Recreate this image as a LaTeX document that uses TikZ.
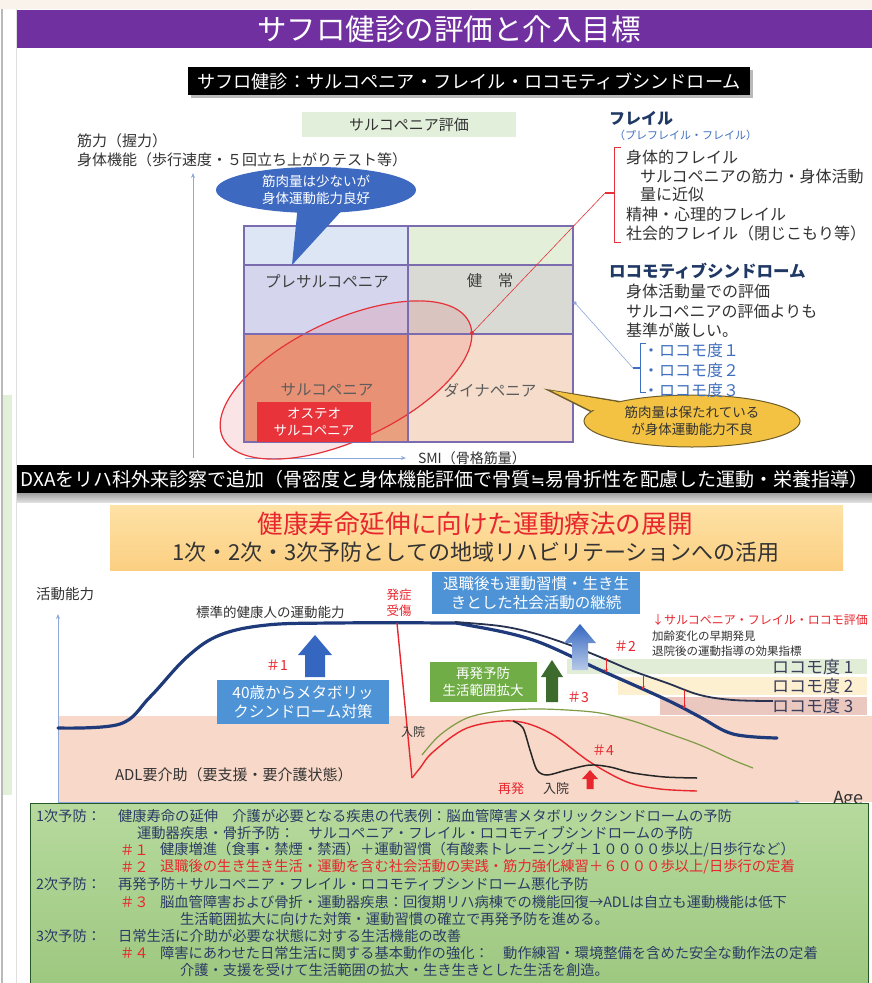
\documentclass[tikz,border=0pt]{standalone}
\usepackage{fontspec}
\setmainfont{Noto Sans CJK JP}
\newfontfamily\dejavu{DejaVu Sans}
\usetikzlibrary{arrows.meta,shapes.geometric,calc}
\newcommand\fsz[2]{\fontsize{#1}{#2}\selectfont}
\definecolor{purplehd}{HTML}{7030A0}
\definecolor{topbeige}{HTML}{FAF3EB}
\definecolor{sevgreen}{HTML}{E2F0D9}
\definecolor{navy}{HTML}{1F3864}
\definecolor{dgray}{HTML}{333333}
\definecolor{lbltxt}{HTML}{404040}
\definecolor{evalgreen}{HTML}{E2EFDA}
\definecolor{axisblue}{HTML}{8FA9DC}
\definecolor{bubblue}{HTML}{3D69C0}
\definecolor{boxblue}{HTML}{4E93D6}
\definecolor{arrblue}{HTML}{3567C0}
\definecolor{gridc}{HTML}{7A6CAE}
\definecolor{cA}{HTML}{DCE6F4}
\definecolor{cB}{HTML}{E3EFD9}
\definecolor{cC}{HTML}{D5D6EE}
\definecolor{cD}{HTML}{D8DAD3}
\definecolor{cE}{HTML}{E9A07E}
\definecolor{cF}{HTML}{F6DCCA}
\definecolor{osteo}{HTML}{E8333B}
\definecolor{ellred}{HTML}{E5323A}
\definecolor{ybub}{HTML}{F4C242}
\definecolor{ybubd}{HTML}{6F5E2A}
\definecolor{lblue}{HTML}{3F6FC0}
\definecolor{adl}{HTML}{F8D8C8}
\definecolor{loco1}{HTML}{E2EDD8}
\definecolor{loco2}{HTML}{FDF0D0}
\definecolor{loco3}{HTML}{EAC8C0}
\definecolor{locotxt}{HTML}{3B3F5C}
\definecolor{curvenavy}{HTML}{1E3A7B}
\definecolor{curvedark}{HTML}{26324F}
\definecolor{curvered}{HTML}{E8262E}
\definecolor{olive}{HTML}{7E9B45}
\definecolor{gbox}{HTML}{70AD47}
\definecolor{garr}{HTML}{3D6B2E}
\definecolor{bannertop}{HTML}{FEE2A6}
\definecolor{bannerbot}{HTML}{FBCF82}
\definecolor{bannerred}{HTML}{E8262E}
\definecolor{botgtop}{HTML}{B6DA9D}
\definecolor{botgbot}{HTML}{9DC77F}
\definecolor{btxt}{HTML}{2C3B66}
\tikzset{
  tl/.style={anchor=west, text=dgray, font=\fsz{16}{18}},
  bl/.style={anchor=west, text=btxt, font=\fsz{14.3}{17}},
  br/.style={anchor=west, text=curvered, font=\fsz{14.3}{17}},
  loco/.style={anchor=west, text=locotxt, font=\fsz{17}{19}},
  axisline/.style={axisblue, line width=0.8, -{Stealth[length=5pt,width=4pt]}},
  redtick/.style={curvered, line width=0.8, -{Stealth[length=4pt,width=3.5pt]}},
}
\begin{document}
\begin{tikzpicture}[x=1pt,y=-1pt,every node/.style={inner sep=0pt,outer sep=0pt}]
\useasboundingbox (0,0) rectangle (872,983);
\clip (0,0) rectangle (872,983);
\fill[white] (0,0) rectangle (872,983);
% screenshot edge
\fill[topbeige] (0,0) rectangle (872,9);
\draw[gray!55, line width=1.2] (2,9) -- (2,983);
\draw[gray!25, line width=1] (16,9) -- (16,983);
\fill[sevgreen] (3,395) rectangle (12,795);

% header
\fill[purplehd] (17,10) rectangle (872,48);
\node[text=white, font=\fsz{29.5}{32}] (title) at (449,29) {サフロ健診の評価と介入目標};

\fill[gray!55] (191,70) rectangle (753,98);
\node[fill=black, minimum width=562, minimum height=28, text=white, font=\fsz{18.2}{20}] (sub) at (469,81) {サフロ健診：サルコペニア・フレイル・ロコモティブシンドローム};

\node[fill=evalgreen, minimum width=214, minimum height=25, text=dgray, font=\fsz{15}{18}] (eval) at (409,124.5) {サルコペニア評価};

\node[anchor=west, text=dgray, font=\fsz{15}{18}] (yl1) at (77,141) {筋力（握力）};
\node[anchor=west, text=dgray, font=\fsz{15}{18}] (yl2) at (77,160) {身体機能（歩行速度・５回立ち上がりテスト等）};

% axes of upper chart
\coordinate (ya0) at (193,458); \coordinate (ya1) at (193,173);
\coordinate (xa0) at (245,458); \coordinate (xa1) at (406,458);
\draw[axisline] (ya0) -- (ya1);
\draw[axisline] (xa0) -- (xa1);
\node[anchor=west, text=dgray, font=\fsz{14}{17}] (smi) at (418,458) {SMI（骨格筋量）};

% grid
\fill[cA] (244,226) rectangle (408,265);
\fill[cB] (408,226) rectangle (573,265);
\fill[cC] (244,265) rectangle (408,334);
\fill[cD] (408,265) rectangle (573,334);
\fill[cE] (244,334) rectangle (408,442);
\fill[cF] (408,334) rectangle (573,442);
\draw[ellred, line width=1.2, fill=ellred, fill opacity=0.13] (346,380) ellipse [x radius=136, y radius=60, rotate=25];
\draw[gridc, line width=1.3] (244,226) rectangle (573,442) (408,226) -- (408,442) (244,265) -- (573,265) (244,334) -- (573,334);

\node[text=lbltxt, font=\fsz{15.5}{18}] (pre) at (327,281) {プレサルコペニア};
\node[text=lbltxt, font=\fsz{15.5}{18}] (kenjo) at (490,281) {健　常};
\node[text=lbltxt!85, font=\fsz{15.5}{18}] (sarco) at (327,390) {サルコペニア};
\node[text=lbltxt!85, font=\fsz{15.5}{18}] (dyna) at (490,390) {ダイナペニア};
\node[fill=osteo, minimum width=114, minimum height=40, text=white, align=center, font=\fsz{13.5}{17}] (osteo) at (314,422) {オステオ\\サルコペニア};

% connectors from the right-hand notes
\coordinate (frailtick) at (605,193);
\coordinate (ellpt) at (472,333);
\draw[ellred, line width=0.6] (frailtick) -- (ellpt);
\fill[ellred] (ellpt) circle (2);
\coordinate (locotick) at (633,368);
\coordinate (gridpt) at (575,303);
\draw[axisblue, line width=0.6] (locotick) -- (gridpt);
\fill[axisblue] (gridpt) circle (1.8);

% blue bubble
\coordinate (bub1tip) at (292,265);
\fill[bubblue] (298,204) -- (bub1tip) -- (346,206) -- cycle;
\node[ellipse, fill=bubblue, minimum width=200, minimum height=46, text=white, align=center, font=\fsz{13.5}{17}] (bub1) at (316,190) {筋肉量は少ないが\\身体運動能力良好};

% yellow bubble
\coordinate (bub2tip) at (548,390);
\filldraw[fill=ybub, draw=ybubd, line width=1.4] (622,402) -- (bub2tip) -- (600,416) -- cycle;
\node[ellipse, fill=ybub, draw=ybubd, line width=1, minimum width=216, minimum height=52, text=dgray, align=center, font=\fsz{13.5}{17}] (bub2) at (692,421) {筋肉量は保たれている\\が身体運動能力不良};
\fill[ybub] (624,403.5) -- (551,390.5) -- (602,414) -- cycle;

% right notes
\node[anchor=west, text=navy, font=\fsz{16}{19}\bfseries] (frail) at (609,118) {フレイル};
\node[anchor=west, text=lblue, font=\fsz{11}{13}] (frail2) at (614,135) {（プレフレイル・フレイル）};
\draw[ellred, line width=1] (621,147) -- (614,147) -- (614,242) -- (621,242);
\draw[ellred, line width=1.6] (614,193) -- (frailtick);
\node[tl] (f1) at (626,157) {身体的フレイル};
\node[tl] (f2) at (640,176) {サルコペニアの筋力・身体活動};
\node[tl] (f3) at (640,195) {量に近似};
\node[tl] (f4) at (626,214) {精神・心理的フレイル};
\node[tl] (f5) at (626,233) {社会的フレイル（閉じこもり等）};

\node[anchor=west, text=navy, font=\fsz{16.5}{19}\bfseries] (lsyn) at (609,271) {ロコモティブシンドローム};
\node[tl] (l1) at (626,291) {身体活動量での評価};
\node[tl] (l2) at (626,311) {サルコペニアの評価よりも};
\node[tl] (l3) at (626,330) {基準が厳しい。};
\draw[lblue, line width=1] (646,343) -- (640,343) -- (640,392) -- (646,392);
\draw[lblue, line width=1.4] (640,368) -- (locotick);
\node[tl, text=lblue] (ld1) at (643,350) {・ロコモ度１};
\node[tl, text=lblue] (ld2) at (643,370) {・ロコモ度２};
\node[tl, text=lblue] (ld3) at (643,390) {・ロコモ度３};

% DXA bar
\node[fill=black, minimum width=855, minimum height=28, text=white, font=\fsz{19}{20}] (dxa) at (444.5,479) {DXAをリハ科外来診察で追加（骨密度と身体機能評価で骨質{\dejavu\fsz{17}{20}≒}易骨折性を配慮した運動・栄養指導）};
\shade[top color=gray!75, bottom color=gray!25] (17,493) rectangle (872,502);

% banner
\shade[top color=bannertop, bottom color=bannerbot] (110,505) rectangle (843,570);
\node[text=bannerred, font=\fsz{25.6}{28}] (ban1) at (475,524) {健康寿命延伸に向けた運動療法の展開};
\node[text=dgray, font=\fsz{22}{24}] (ban2) at (476,552) {1次・2次・3次予防としての地域リハビリテーションへの活用};

% lower chart background
\fill[adl] (58,716) rectangle (872,802);
\fill[loco1] (567,659) rectangle (867,674);
\fill[loco2] (618,677) rectangle (867,695);
\fill[loco3] (660,697) rectangle (867,715);
\node[loco] (lc1) at (772,667) {ロコモ度 1};
\node[loco] (lc2) at (772,686) {ロコモ度 2};
\node[loco] (lc3) at (772,706) {ロコモ度 3};

\node[anchor=west, text=dgray, font=\fsz{18}{20}] (age) at (833,800) {Age};

\coordinate (gy0) at (58,802); \coordinate (gy1) at (58,614); \coordinate (gx1) at (800,802);
\draw[axisline] (gy0) -- (gy1);
\draw[axisline] (gy0) -- (gx1);

\node[anchor=west, text=dgray, font=\fsz{14.5}{17}] (act) at (36,594) {活動能力};
\node[anchor=west, text=dgray, font=\fsz{13.5}{16}] (std) at (196,612) {標準的健康人の運動能力};
\node[text=curvered, align=center, font=\fsz{12.5}{16}] (onset) at (399,603) {発症\\受傷};
\node[anchor=west, text=dgray, font=\fsz{15}{18}] (adltxt) at (115,775) {ADL要介助（要支援・要介護状態）};

% curves
\draw[curvenavy, line width=3.2, line cap=round] plot[smooth, tension=0.6] coordinates {(58,728) (120,724) (150,697) (187,657) (220,635) (267,625) (333,623) (440,623) (467,625) (533,640) (600,670) (667,700) (700,717) (733,734) (777,738)};
\draw[curvedark, line width=1.8] plot[smooth, tension=0.6] coordinates {(455,622) (500,626) (533,633) (567,644) (600,657) (633,671) (667,683) (700,695) (733,700) (773,701)};
\draw[curvered, line width=1.4] (397,623) -- (412,778);
\draw[curvered, line width=1.4] plot[smooth, tension=0.55] coordinates {(412,778) (420,768) (433,752) (467,728) (513,721) (550,733) (590,762) (627,782) (660,789) (697,791)};
\draw[olive, line width=1.2] plot[smooth, tension=0.55] coordinates {(422,755) (440,735) (467,718) (500,711) (533,709) (567,710) (600,713) (633,721) (667,733) (700,745) (733,760) (753,768)};
\draw[black!85, line width=1.5] plot[smooth, tension=0.5] coordinates {(513,721) (523,728) (530,750) (537,770) (547,775) (567,770) (590,765) (610,767) (633,773) (665,777) (697,778)};

% small red arrows between curves
\coordinate (ra1s) at (606,658); \coordinate (ra1e) at (606,673);
\coordinate (ra2s) at (643,675); \coordinate (ra2e) at (643,690);
\coordinate (ra3s) at (684,690); \coordinate (ra3e) at (684,709);
\draw[redtick] (ra1s) -- (ra1e);
\draw[redtick] (ra2s) -- (ra2e);
\draw[redtick] (ra3s) -- (ra3e);

% big arrows
\fill[arrblue] (315,635) -- (332,655) -- (325,655) -- (325,677) -- (305,677) -- (305,655) -- (298,655) -- cycle;
\shade[top color=arrblue, bottom color=arrblue!35] (580,624) -- (596,643) -- (588,643) -- (588,670) -- (572,670) -- (572,643) -- (564,643) -- cycle;
\fill[garr] (552,660) -- (563,677) -- (558,677) -- (558,702) -- (546,702) -- (546,677) -- (541,677) -- cycle;
\fill[curvered] (590,770) -- (598,779) -- (593.5,779) -- (593.5,789) -- (586.5,789) -- (586.5,779) -- (582,779) -- cycle;

% boxes and labels
\node[fill=boxblue, minimum width=172, minimum height=44, text=white, align=center, font=\fsz{15.5}{19}] (box40) at (303,702) {40歳からメタボリッ\\クシンドローム対策};
\node[fill=boxblue, minimum width=208, minimum height=42, text=white, align=center, font=\fsz{15.5}{19}] (boxret) at (536,593) {退職後も運動習慣・生き生\\きとした社会活動の継続};
\node[fill=gbox, minimum width=107, minimum height=40, text=white, align=center, font=\fsz{13.5}{17}] (boxre) at (483,682) {再発予防\\生活範囲拡大};
\node[text=curvered, font=\fsz{14}{16}] (h1) at (277,665) {＃1};
\node[text=curvered, font=\fsz{14}{16}] (h2) at (625,646) {＃2};
\node[text=curvered, font=\fsz{14}{16}] (h3) at (578,697) {＃3};
\node[text=curvered, font=\fsz{14}{16}] (h4) at (603,750) {＃4};
\node[anchor=west, text=curvered, font=\fsz{12}{14}] (eval2) at (652,620) {↓サルコペニア・フレイル・ロコモ評価};
\node[anchor=west, text=dgray, font=\fsz{11.5}{14}] (early) at (652,636) {加齢変化の早期発見};
\node[anchor=west, text=dgray, font=\fsz{11.5}{14}] (effect) at (652,651) {退院後の運動指導の効果指標};
\node[text=dgray, font=\fsz{12}{14}] (adm1) at (413,732) {入院};
\node[text=curvered, font=\fsz{13}{15}] (rec) at (511,789) {再発};
\node[text=dgray, font=\fsz{13}{15}] (adm2) at (556,789) {入院};

% bottom box
\shadedraw[top color=botgtop, bottom color=botgbot, draw=gray!60!green!50!black, line width=0.6] (30,803) rectangle (868,990);
\node[bl] (p1) at (36,816) {1次予防：};
\node[bl] (p1a) at (118,816) {健康寿命の延伸　介護が必要となる疾患の代表例：脳血管障害メタボリックシンドロームの予防};
\node[bl] (p1b) at (137,833) {運動器疾患・骨折予防：　サルコペニア・フレイル・ロコモティブシンドロームの予防};
\node[br] (p1c) at (120,850) {＃１};
\node[bl] (p1d) at (160,850) {健康増進（食事・禁煙・禁酒）＋運動習慣（有酸素トレーニング＋１００００歩以上/日歩行など）};
\node[br] (p1e) at (120,867) {＃２};
\node[br] (p1f) at (160,867) {退職後の生き生き生活・運動を含む社会活動の実践・筋力強化練習＋６０００歩以上/日歩行の定着};
\node[bl] (p2) at (36,884) {2次予防：};
\node[bl] (p2a) at (118,884) {再発予防＋サルコペニア・フレイル・ロコモティブシンドローム悪化予防};
\node[br] (p2b) at (120,902) {＃３};
\node[bl] (p2c) at (160,902) {脳血管障害および骨折・運動器疾患：回復期リハ病棟での機能回復→ADLは自立も運動機能は低下};
\node[bl] (p2d) at (180,919) {生活範囲拡大に向けた対策・運動習慣の確立で再発予防を進める。};
\node[bl] (p3) at (36,936) {3次予防：};
\node[bl] (p3a) at (118,936) {日常生活に介助が必要な状態に対する生活機能の改善};
\node[br] (p3b) at (120,953) {＃４};
\node[bl] (p3c) at (160,953) {障害にあわせた日常生活に関する基本動作の強化：　動作練習・環境整備を含めた安全な動作法の定着};
\node[bl] (p3d) at (180,970) {介護・支援を受けて生活範囲の拡大・生き生きとした生活を創造。};
\end{tikzpicture}
\end{document}
